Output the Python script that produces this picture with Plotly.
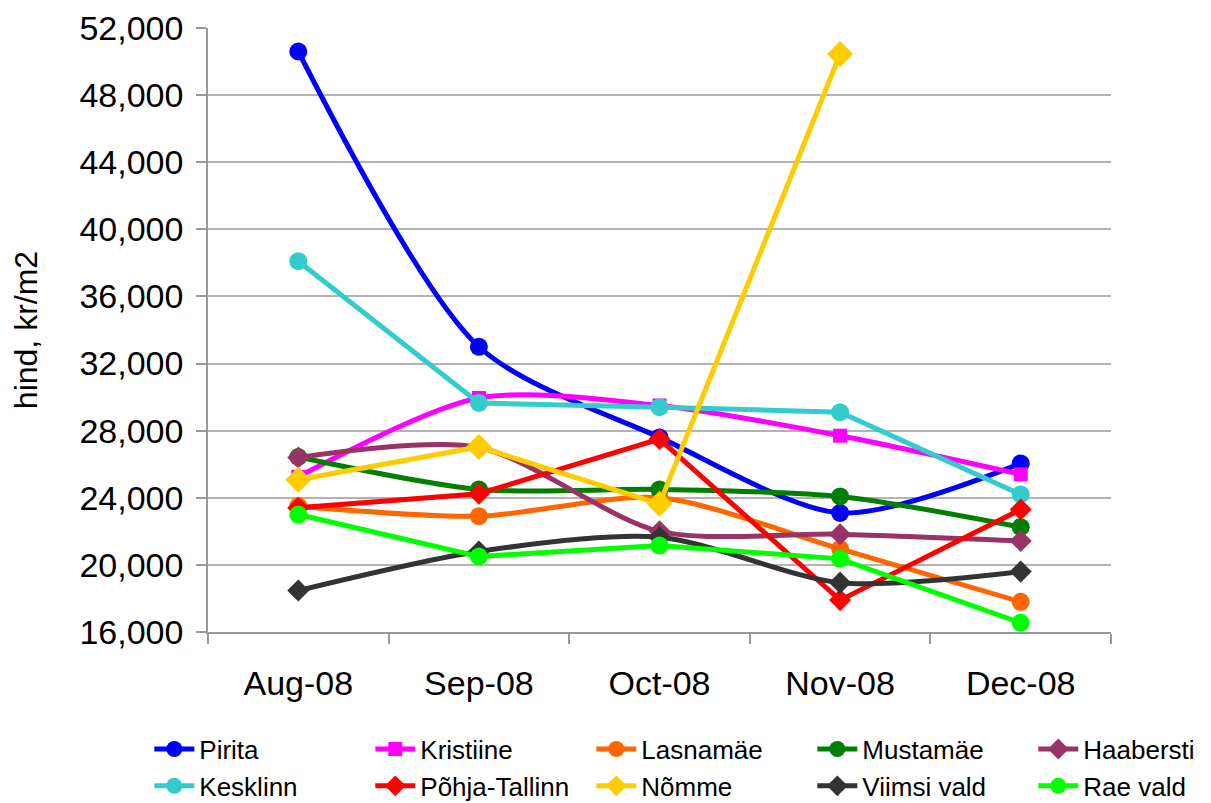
import plotly.graph_objects as go

months = ["Aug-08", "Sep-08", "Oct-08", "Nov-08", "Dec-08"]

pirita = [50600, 33000, 27600, 23100, 26050]
kristiine = [25250, 29950, 29500, 27700, 25400]
lasnamae = [23500, 22900, 24000, 20950, 17800]
mustamae = [26430, 24500, 24500, 24080, 22250]
haabersti = [26400, 27000, 22000, 21830, 21430]
kesklinn = [38100, 29650, 29400, 29100, 24200]
pohja = [23400, 24240, 27500, 17900, 23300]
nomme = [25070, 27030, 23640, 50450, None]
viimsi = [18470, 20800, 21650, 18940, 19600]
rae = [23000, 20500, 21150, 20360, 16550]

series = [
    ("Pirita", pirita, "#0000FF", "circle", 18, True),
    ("Kristiine", kristiine, "#FF00FF", "square", 14, True),
    ("Lasnamäe", lasnamae, "#FF6600", "circle", 18, True),
    ("Mustamäe", mustamae, "#008000", "circle", 18, True),
    ("Haabersti", haabersti, "#993366", "diamond", 17, True),
    ("Kesklinn", kesklinn, "#33CCCC", "circle", 18, False),
    ("Põhja-Tallinn", pohja, "#FF0000", "diamond", 17, False),
    ("Nõmme", nomme, "#FFCC00", "diamond", 20, False),
    ("Viimsi vald", viimsi, "#333333", "diamond", 17, True),
    ("Rae vald", rae, "#00FF00", "circle", 18, False),
]

fig = go.Figure()
for name, vals, color, sym, size, smooth in series:
    line = dict(color=color, width=5)
    if smooth:
        line.update(shape="spline", smoothing=0.8)
    fig.add_trace(go.Scatter(
        x=months, y=vals, name=name, mode="lines+markers",
        line=line,
        marker=dict(symbol=sym, size=size, color=color),
        connectgaps=False,
    ))

font_family = "Liberation Sans, Arial, sans-serif"
fig.update_layout(
    width=1203, height=795,
    margin=dict(l=200, r=100, t=20, b=171, autoexpand=False),
    paper_bgcolor="white", plot_bgcolor="white",
    font=dict(family=font_family, color="black", size=26),
    showlegend=True,
    legend=dict(
        orientation="h", x=-0.065, y=-0.155, xanchor="left", yanchor="top",
        font=dict(size=26, family=font_family),
        entrywidth=166, entrywidthmode="pixels",
        itemwidth=40, tracegroupgap=0, traceorder="normal",
        bgcolor="rgba(0,0,0,0)",
    ),
    xaxis=dict(
        type="category", tickson="boundaries", ticks="outside", ticklen=10,
        tickcolor="#999999", tickwidth=1.5,
        showline=True, linecolor="#999999", linewidth=1.5,
        showgrid=False, tickfont=dict(size=34),
        range=[-0.5, 4.5], automargin=False, ticklabelstandoff=20,
    ),
    yaxis=dict(
        range=[16000, 52000], dtick=4000, tick0=16000, tickformat=",",
        ticks="outside", ticklen=10, tickcolor="#999999", tickwidth=1.5,
        showline=True, linecolor="#999999", linewidth=1.5,
        showgrid=True, gridcolor="#b3b3b3", gridwidth=1.5,
        tickfont=dict(size=34), zeroline=False, automargin=False,
        ticklabelstandoff=6,
        title=dict(text="hind, kr/m2", font=dict(size=32), standoff=35),
    ),
)

fig.write_html("out.html")
